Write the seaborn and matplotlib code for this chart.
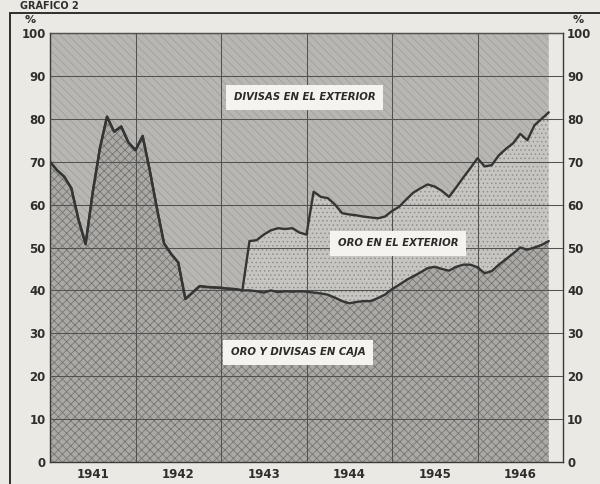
import numpy as np
import pandas as pd
import matplotlib
matplotlib.use('Agg')
import matplotlib.pyplot as plt
import seaborn as sns

# monthly values, Jan 1941 .. Nov 1946 (percent of total reserves)
caja = [70, 68, 66.5, 63.8, 56.5, 50.8, 62.9, 73.1, 80.5, 77, 78.2, 74.5,
        72.7, 76, 68, 59.2, 51, 48.5, 46.5, 38, 39.5, 41, 40.8, 40.7,
        40.6, 40.4, 40.3, 40, 40, 39.8, 39.5, 40, 39.6, 39.8, 39.7, 39.8,
        39.7, 39.5, 39.3, 39, 38.3, 37.5, 37, 37.3, 37.5, 37.5, 38.2, 39,
        40.3, 41.3, 42.4, 43.3, 44.2, 45.2, 45.5, 45, 44.6, 45.5, 46, 46,
        45.4, 44, 44.5, 46, 47.3, 48.6, 50, 49.5, 50, 50.6, 51.5]
# caja + oro en el exterior
total = [70, 68, 66.5, 63.8, 56.5, 50.8, 62.9, 73.1, 80.5, 77, 78.2, 74.5,
         72.7, 76, 68, 59.2, 51, 48.5, 46.5, 38, 39.5, 41, 40.8, 40.7,
         40.6, 40.4, 40.3, 40, 51.5, 51.7, 53, 54, 54.5, 54.3, 54.5, 53.5,
         53, 63, 61.8, 61.5, 60, 58, 57.7, 57.5, 57.2, 57, 56.8, 57.2,
         58.5, 59.5, 61.2, 62.8, 63.8, 64.7, 64.2, 63.2, 61.8, 64, 66.3, 68.5,
         70.8, 68.9, 69.2, 71.5, 73, 74.3, 76.5, 75, 78.5, 80, 81.5]
years = [1941, 1942, 1943, 1944, 1945, 1946]
yticks = list(range(0, 101, 10))

t = 1941 + np.arange(len(caja)) / 12
df = pd.DataFrame({'t': t, 'caja': caja, 'total': total})

sns.set_style("white")
plt.rcParams['font.family'] = ['DejaVu Sans']
plt.rcParams['hatch.linewidth'] = 0.55

bg = '#ebe9e3'
fig = plt.figure(figsize=(6, 4.84), dpi=100, facecolor=bg)
ax = fig.add_axes([50 / 600, 1 - 462 / 484, 513 / 600, 429 / 484])
ax.set_facecolor(bg)

# areas
ax.fill_between(df['t'], df['total'], 100, facecolor='#b7b6b2',
                edgecolor='#86868384', hatch='\\\\\\\\', linewidth=0, zorder=1)
ax.fill_between(df['t'], df['caja'], df['total'], facecolor='#c6c5c1',
                edgecolor='#8e8e8c', hatch='....', linewidth=0, zorder=1)
ax.fill_between(df['t'], 0, df['caja'], facecolor='#aaa9a5',
                edgecolor='#727270', hatch='xxxx', linewidth=0, zorder=1)

sns.lineplot(data=df, x='t', y='total', color='#353533', linewidth=1.7, ax=ax, zorder=4)
sns.lineplot(data=df, x='t', y='caja', color='#353533', linewidth=1.7, ax=ax, zorder=4)

# grid
for v in yticks[1:]:
    ax.axhline(v, color='#525250', linewidth=0.75, zorder=3)
for y in years[1:]:
    ax.axvline(y, color='#525250', linewidth=0.75, zorder=3)

ax.set_xlim(1941, 1947)
ax.set_ylim(0, 100)
ax.set_xticks([y + 0.5 for y in years])
ax.set_xticklabels([str(y) for y in years])
ax.set_yticks(yticks)
ax.set_yticklabels([str(v) for v in yticks])
ax.tick_params(axis='both', length=0, labelsize=8.5, colors='#2e2e2c', pad=4)
ax.tick_params(axis='y', labelright=True, pad=3)
for lab in ax.get_xticklabels() + ax.get_yticklabels():
    lab.set_fontweight('bold')
ax.set_xlabel('')
ax.set_ylabel('')
for s in ax.spines.values():
    s.set_color('#3a3a38')
    s.set_linewidth(1.0)

# labels in white boxes
box = dict(boxstyle='square,pad=0.75', facecolor='#f4f3ef', edgecolor='none')
lab_kw = dict(fontsize=7.3, fontweight='bold', fontstyle='italic',
              color='#2a2a28', ha='center', va='center', zorder=6, bbox=box)
ax.text(1943.98, 85, 'DIVISAS EN EL EXTERIOR', **lab_kw)
ax.text(1945.07, 51, 'ORO EN EL EXTERIOR', **lab_kw)
ax.text(1943.9, 25.6, 'ORO Y DIVISAS EN CAJA', **lab_kw)

# percent signs
fig.text(30 / 600, 1 - 20 / 484, '%', fontsize=8, fontweight='bold',
         color='#2e2e2c', ha='center', va='center')
fig.text(578 / 600, 1 - 20 / 484, '%', fontsize=8, fontweight='bold',
         color='#2e2e2c', ha='center', va='center')

# outer frame and title
fig.add_artist(plt.Line2D([10 / 600, 10 / 600], [0, 1 - 13 / 484],
                          color='#2e2e2c', linewidth=1.4))
fig.add_artist(plt.Line2D([10 / 600, 1], [1 - 13 / 484, 1 - 13 / 484],
                          color='#2e2e2c', linewidth=1.4))
fig.text(20 / 600, 1 - 6 / 484, 'GRÁFICO 2', fontsize=7, fontweight='bold',
         color='#2e2e2c', ha='left', va='center')

fig.savefig('out.png', dpi=100, facecolor=bg)
